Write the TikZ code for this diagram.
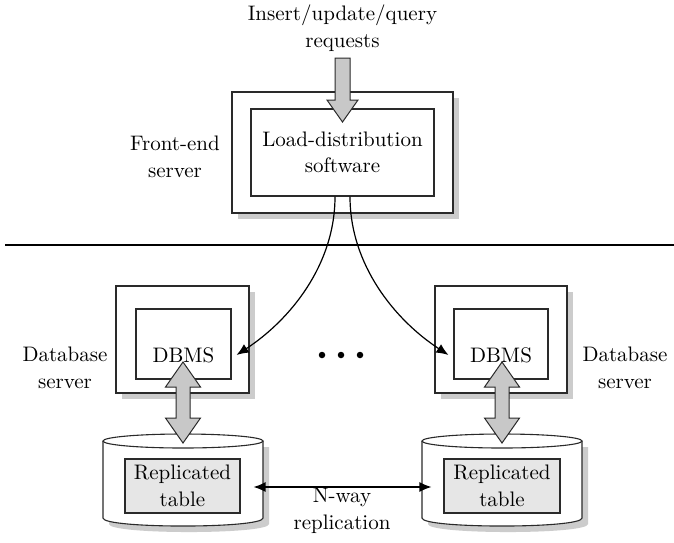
\documentclass[tikz,border=0pt]{standalone}
\usepackage{fontspec}
\setmainfont{lmroman10-regular.otf}
\usetikzlibrary{arrows.meta,shadows}
\definecolor{shadowc}{HTML}{CCCCCC}
\definecolor{arrowc}{HTML}{C8C8C8}
\definecolor{tablec}{HTML}{E6E6E6}
\definecolor{linec}{HTML}{2A2A2A}
\tikzset{
 lbl/.style={align=center, font=\fontsize{21}{26.5}\selectfont, inner sep=0pt},
 box/.style={draw=linec, line width=1.1pt, fill=white, inner sep=0pt},
 shadowed/.style={drop shadow={shadow xshift=6pt, shadow yshift=-6pt, fill=shadowc, opacity=1}},
 blockarrow/.style={draw=linec, line width=1pt, fill=arrowc, line join=miter},
 conn/.style={-{Latex[length=12pt,width=10pt]}, line width=1.2pt},
 tablebox/.style={draw=linec, line width=1.1pt, fill=tablec, inner sep=0pt, minimum height=54pt},
 dotnode/.style={circle, fill=black, inner sep=0pt, minimum size=6.5pt},
}
\newcommand\mycyl[1]{%
  \fill[shadowc] ({#1-80+6},447) -- ({#1-80+6},524) .. controls ({#1-80+6},534.7) and ({#1+80+6},534.7) .. ({#1+80+6},524) -- ({#1+80+6},447) -- cycle;
  \filldraw[draw=linec, fill=white, line width=1.1pt] ({#1-80},441) -- ({#1-80},518) .. controls ({#1-80},528.7) and ({#1+80},528.7) .. ({#1+80},518) -- ({#1+80},441);
  \filldraw[draw=linec, fill=white, line width=1.1pt] (#1,441) ellipse [x radius=80pt, y radius=7pt];
}
\begin{document}
\begin{tikzpicture}[x=1pt,y=-1pt]
\useasboundingbox (0,0) rectangle (674,542);
\fill[white] (0,0) rectangle (674,542);

% top label and front-end server
\node[lbl] (req) at (342.5,28) {Insert/update/query\\requests};
\node[box, shadowed, minimum width=221pt, minimum height=121pt] (feout) at (342.5,152.5) {};
\node[box, minimum width=183pt, minimum height=87pt, lbl] (fein) at (342.5,152.5) {Load-distribution\\software};
\node[lbl] (felbl) at (175,157) {Front-end\\server};
\draw[blockarrow] (335,58) -- (335,100) -- (327,100) -- (342.5,122) -- (358,100) -- (350,100) -- (350,58) -- cycle;

% separator
\coordinate (hl1) at (5,245);
\coordinate (hl2) at (674,245);
\draw[line width=1.1pt] (hl1) -- (hl2);

% database servers
\node[box, shadowed, minimum width=133pt, minimum height=107pt] (db1out) at (182.5,339.5) {};
\node[box, minimum width=95pt, minimum height=70pt] (db1in) at (183.5,344) {};
\node[lbl] (db1txt) at (183.5,355) {DBMS};
\node[box, shadowed, minimum width=132pt, minimum height=107pt] (db2out) at (501,339.5) {};
\node[box, minimum width=94pt, minimum height=70pt] (db2in) at (501,344) {};
\node[lbl] (db2txt) at (501,355) {DBMS};
\node[lbl] (db1lbl) at (65,368) {Database\\server};
\node[lbl] (db2lbl) at (625,368) {Database\\server};

% dots
\node[dotnode] (d1) at (322,355) {};
\node[dotnode] (d2) at (341,355) {};
\node[dotnode] (d3) at (360,355) {};

% connectors from front end
\draw[conn] ([xshift=-7.5pt]fein.south) .. controls (335,265) and (290,320) .. ([xshift=5pt,yshift=-11pt]db1in.east);
\draw[conn] ([xshift=7.5pt]fein.south) .. controls (350,265) and (395,320) .. ([xshift=-5pt,yshift=-11pt]db2in.west);

% cylinders
\mycyl{183}
\mycyl{502}
\node[tablebox, minimum width=115pt, lbl] (rep1) at (182.5,486) {Replicated\\table};
\node[tablebox, minimum width=116pt, lbl] (rep2) at (502,486) {Replicated\\table};

% double block arrows
\draw[blockarrow] (183,362) -- (200.5,387) -- (190,387) -- (190,418) -- (200.5,418) -- (183,443) -- (165.5,418) -- (176,418) -- (176,387) -- (165.5,387) -- cycle;
\draw[blockarrow] (502,362) -- (519.5,387) -- (509,387) -- (509,418) -- (519.5,418) -- (502,443) -- (484.5,418) -- (495,418) -- (495,387) -- (484.5,387) -- cycle;

% replication
\draw[{Latex[length=12pt,width=10pt]}-{Latex[length=12pt,width=10pt]}, line width=1.2pt] ([xshift=13pt,yshift=-1pt]rep1.east) -- ([xshift=-12pt,yshift=-1pt]rep2.west);
\node[lbl] (replbl) at (342,511) {N-way\\replication};
\end{tikzpicture}
\end{document}
